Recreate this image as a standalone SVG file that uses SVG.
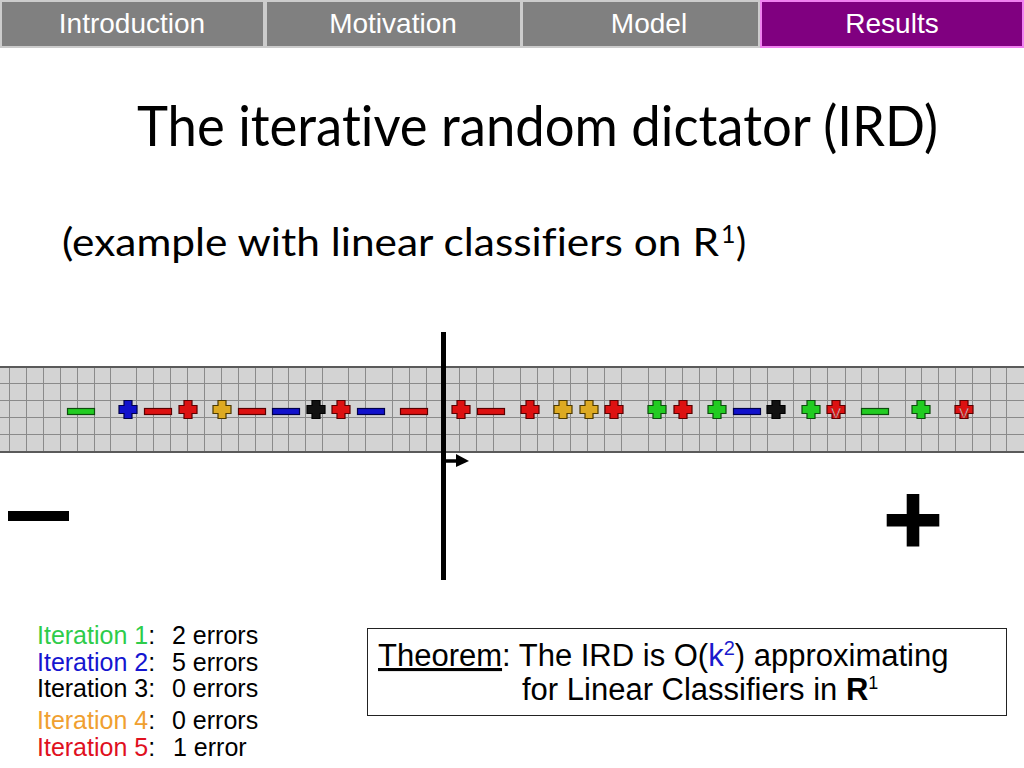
<svg xmlns="http://www.w3.org/2000/svg" width="1024" height="768" viewBox="0 0 1024 768">
<style>
.nav{font-family:"Liberation Sans",Arial,sans-serif;font-size:28px;fill:#fff;text-anchor:middle}
.tab{fill:#808080}
.ttl{font-family:Lato,"Open Sans",sans-serif;fill:#000;font-variant-ligatures:none;font-feature-settings:"liga" 0,"clig" 0}
.it{font-family:"Liberation Sans",Arial,sans-serif;font-size:25px;fill:#000}
.th{font-family:"Liberation Sans",Arial,sans-serif;font-size:31px;fill:#000}
.g{fill:#22cc22;stroke:#0d4d0d;stroke-width:1.2}
.b{fill:#1111cc;stroke:#00004a;stroke-width:1.2}
.r{fill:#dd1111;stroke:#5a0000;stroke-width:1.2}
.y{fill:#ddaa22;stroke:#4d3a00;stroke-width:1.2}
.k{fill:#111;stroke:#000;stroke-width:1.2}
.v{font-family:"Liberation Sans",Arial,sans-serif;font-size:15px;fill:#fff;stroke:#990000;stroke-width:0.6;text-anchor:middle}
</style>
<defs>
<path id="plus" d="M-4,-9h8v5h5v8h-5v5h-8v-5h-5v-8h5z"/>
<rect id="minus" x="-13.5" y="-3" width="27" height="6"/>
</defs>
<rect width="1024" height="768" fill="#fff"/>

<g id="navbar">
<rect x="0" y="0" width="1024" height="48" fill="#cccccc"/>
<g id="tab-introduction"><rect class="tab" x="2" y="2" width="261" height="44"/><text class="nav" x="132" y="33">Introduction</text></g>
<g id="tab-motivation"><rect class="tab" x="267" y="2" width="253" height="44"/><text class="nav" x="393" y="33">Motivation</text></g>
<g id="tab-model"><rect class="tab" x="523" y="2" width="235" height="44"/><text class="nav" x="649" y="33">Model</text></g>
<g id="tab-results"><rect x="761" y="1" width="262" height="46" fill="#800080" stroke="#f080f0" stroke-width="2"/><text class="nav" x="892" y="33">Results</text></g>
</g>

<g id="title">
<text class="ttl" x="137" y="146" font-size="56" textLength="801" lengthAdjust="spacingAndGlyphs">The iterative random dictator (IRD)</text>
<text class="ttl" x="62" y="256" font-size="38" textLength="657" lengthAdjust="spacingAndGlyphs">(example with linear classifiers on R</text>
<text class="ttl" x="721" y="243" font-size="25">1</text>
<text class="ttl" x="736" y="256" font-size="38">)</text>
</g>

<g id="strip">
<rect x="-2" y="367" width="1028" height="85" fill="#d3d3d3" stroke="#5a5a5a" stroke-width="2"/>
<path stroke="#8a8a8a" stroke-width="1" fill="none" d="M0,383.5H1024M0,400.5H1024M0,417.5H1024M0,434.5H1024
M9.5,368V451M26.5,368V451M43.5,368V451M60.5,368V451M77.5,368V451M94.5,368V451M110.5,368V451M136.5,368V451M153.5,368V451M170.5,368V451M187.5,368V451M204.5,368V451M221.5,368V451M238.5,368V451M255.5,368V451M272.5,368V451M288.5,368V451M305.5,368V451M322.5,368V451M348.5,368V451M365.5,368V451M392.5,368V451M409.5,368V451M426.5,368V451M459.5,368V451M476.5,368V451M493.5,368V451M520.5,368V451M537.5,368V451M553.5,368V451M570.5,368V451M587.5,368V451M604.5,368V451M621.5,368V451M648.5,368V451M665.5,368V451M682.5,368V451M699.5,368V451M716.5,368V451M733.5,368V451M750.5,368V451M767.5,368V451M793.5,368V451M810.5,368V451M827.5,368V451M845.5,368V451M861.5,368V451M878.5,368V451M905.5,368V451M921.5,368V451M938.5,368V451M955.5,368V451M972.5,368V451M990.5,368V451M1006.5,368V451"/>
</g>

<g id="points">
<use href="#minus" class="g" transform="translate(81,411.5)"/>
<use href="#plus" class="b" transform="translate(128,409.5)"/>
<use href="#minus" class="r" transform="translate(158,411.5)"/>
<use href="#plus" class="r" transform="translate(188,409.5)"/>
<use href="#plus" class="y" transform="translate(222,409.5)"/>
<use href="#minus" class="r" transform="translate(252,411.5)"/>
<use href="#minus" class="b" transform="translate(286,411.5)"/>
<use href="#plus" class="k" transform="translate(316,409.5)"/>
<use href="#plus" class="r" transform="translate(341,409.5)"/>
<use href="#minus" class="b" transform="translate(371,411.5)"/>
<use href="#minus" class="r" transform="translate(414,411.5)"/>
<use href="#plus" class="r" transform="translate(461,409.5)"/>
<use href="#minus" class="r" transform="translate(491,411.5)"/>
<use href="#plus" class="r" transform="translate(530,409.5)"/>
<use href="#plus" class="y" transform="translate(563,409.5)"/>
<use href="#plus" class="y" transform="translate(589,409.5)"/>
<use href="#plus" class="r" transform="translate(614,409.5)"/>
<use href="#plus" class="g" transform="translate(657,409.5)"/>
<use href="#plus" class="r" transform="translate(683,409.5)"/>
<use href="#plus" class="g" transform="translate(717,409.5)"/>
<use href="#minus" class="b" transform="translate(747,411.5)"/>
<use href="#plus" class="k" transform="translate(776,409.5)"/>
<use href="#plus" class="g" transform="translate(811,409.5)"/>
<use href="#plus" class="r" transform="translate(836,409.5)"/>
<text class="v" x="836" y="418">V</text>
<use href="#minus" class="g" transform="translate(875,411.5)"/>
<use href="#plus" class="g" transform="translate(921,409.5)"/>
<use href="#plus" class="r" transform="translate(964,409.5)"/>
<text class="v" x="964" y="418">V</text>
</g>

<g id="classifier">
<rect x="441" y="332" width="5" height="248" fill="#000"/>
<line x1="446" y1="461" x2="458" y2="461" stroke="#000" stroke-width="3.5"/>
<polygon points="456,454 469,461 456,467" fill="#000"/>
</g>

<g id="signs">
<rect x="8" y="511" width="61" height="10" fill="#000"/>
<path d="M906.7,494h12.6v20h20v12.6h-20v20h-12.6v-20h-20v-12.6h20z" fill="#000"/>
</g>

<g id="iterations">
<text class="it" x="37" y="644"><tspan fill="#2ecc4a">Iteration 1</tspan>:</text><text class="it" x="172" y="644">2 errors</text>
<text class="it" x="37" y="671"><tspan fill="#1515d0">Iteration 2</tspan>:</text><text class="it" x="172" y="671">5 errors</text>
<text class="it" x="37" y="697">Iteration 3:</text><text class="it" x="172" y="697">0 errors</text>
<text class="it" x="37" y="729"><tspan fill="#f0a030">Iteration 4</tspan>:</text><text class="it" x="172" y="729">0 errors</text>
<text class="it" x="37" y="756"><tspan fill="#e0101e">Iteration 5</tspan>:</text><text class="it" x="173" y="756">1 error</text>
</g>

<g id="theorem">
<rect x="367.5" y="628.5" width="639" height="87" fill="#fff" stroke="#222" stroke-width="1"/>
<text class="th" x="378" y="666"><tspan text-decoration="underline">Theorem</tspan>: The IRD is O(<tspan fill="#1a1acc">k</tspan><tspan fill="#1a1acc" font-size="20" dy="-11">2</tspan><tspan dy="11">) approximating</tspan></text>
<text class="th" x="522" y="700">for Linear Classifiers in <tspan font-weight="bold">R</tspan><tspan font-size="18" dy="-11">1</tspan></text>
</g>
</svg>
